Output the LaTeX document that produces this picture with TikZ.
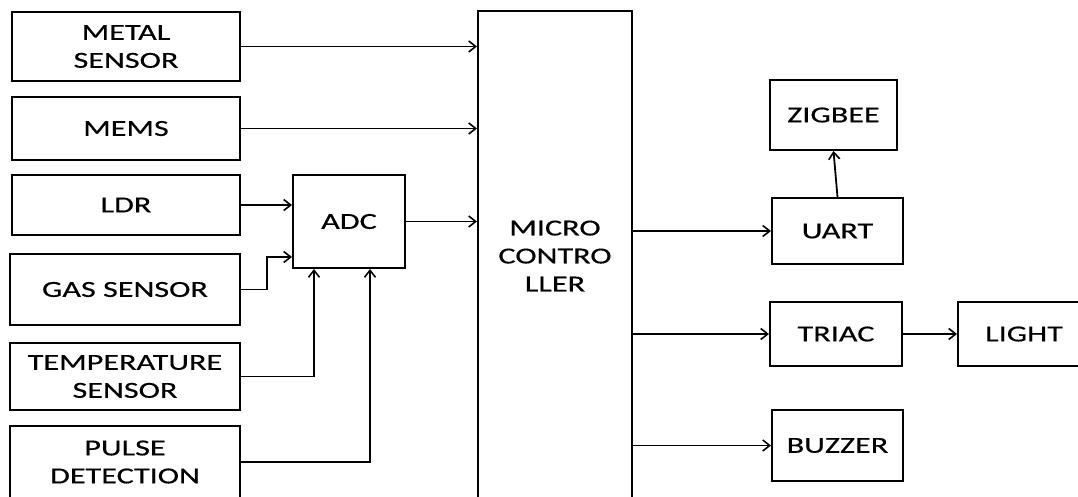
\documentclass[tikz,border=0pt]{standalone}
\usepackage{fontspec}
\setmainfont{Carlito}[FakeStretch=1.4,FakeBold=0.4]
\usetikzlibrary{arrows.meta,calc}

\tikzset{
  block/.style={draw, line width=2pt, inner sep=0pt, align=center,
    font=\fontsize{23}{28}\selectfont},
  link/.style={line width=1.8pt, -{Straight Barb[length=7pt,width=11pt,line width=1.6pt]}}
}

\begin{document}
\begin{tikzpicture}[x=1pt,y=-1pt]
                \useasboundingbox (0,0) rectangle (1078,496);
                \clip (0,0) rectangle (1078,496);
                % sensors
                \node[block, minimum width=228pt, minimum height=69pt] (metal) at (126,46.5) {METAL\\SENSOR};
                \node[block, minimum width=228pt, minimum height=63pt] (mems) at (126,128.5) {MEMS};
                \node[block, minimum width=228pt, minimum height=60pt] (ldr) at (126,205) {LDR};
                \node[block, minimum width=230pt, minimum height=71pt] (gas) at (125,289.5) {GAS SENSOR};
                \node[block, minimum width=230pt, minimum height=67pt] (temp) at (125,376.5) {TEMPERATURE\\SENSOR};
                \node[block, minimum width=230pt, minimum height=72pt] (pulse) at (125,462) {PULSE\\DETECTION};

                \node[block, minimum width=112pt, minimum height=93pt] (adc) at (349,221.5) {ADC};
                \node[block, minimum width=154pt, minimum height=490pt] (mc) at (555,256) {MICRO\\CONTRO\\LLER};

                % outputs
                \node[block, minimum width=127pt, minimum height=70pt] (zigbee) at (833.5,115) {ZIGBEE};
                \node[block, minimum width=131pt, minimum height=66pt] (uart) at (837.5,231) {UART};
                \node[block, minimum width=132pt, minimum height=64pt] (triac) at (836,334) {TRIAC};
                \node[block, minimum width=132pt, minimum height=64pt] (light) at (1024,334) {LIGHT};
                \node[block, minimum width=131pt, minimum height=71pt] (buzzer) at (837.5,445.5) {BUZZER};

                \path[link]
                (metal.east) edge (metal.east -| mc.west)
                (mems.east) edge (mems.east -| mc.west)
                (ldr.east) edge (ldr.east -| adc.west)
                (adc.east) edge (adc.east -| mc.west)
                (uart.west -| mc.east) edge (uart.west)
                (uart.north) edge (zigbee.south)
                (triac.west -| mc.east) edge (triac.west)
                (triac.east) edge (light.west)
                (buzzer.west -| mc.east) edge (buzzer.west);

                \draw[link] (gas.east) -- ++(26,0) |- ([yshift=12pt]adc.south west);
                \draw[link] (temp.east) -| ([xshift=22pt]adc.south west);
                \draw[link] (pulse.east) -| ([xshift=78pt]adc.south west);
\end{tikzpicture}
\end{document}
